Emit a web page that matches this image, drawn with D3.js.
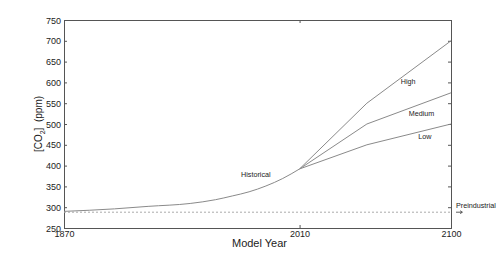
<!DOCTYPE html>
<html><head><meta charset="utf-8">
<script src="https://cdn.jsdelivr.net/npm/d3@7"></script>
<style>body{margin:0;background:#fff}svg{display:block}text{font-family:"Liberation Sans",Arial,sans-serif;fill:#222}</style>
</head><body><svg id="c" width="499" height="257"></svg>
<script>
const histYears = [1870, 1900, 1920, 1945, 1960, 1970, 1980, 1990, 2000, 2010];
const histValues = [290, 296, 302, 309, 318, 327, 337, 351, 369, 392];
const scenYears = [2010, 2050, 2100];
const highValues = [392, 550, 700];
const mediumValues = [392, 500, 575];
const lowValues = [392, 450, 500];
const preindustrial = 288;
const xTicks = [1870, 2010, 2100];
const yTicks = [250, 300, 350, 400, 450, 500, 550, 600, 650, 700, 750];
const labels = [
  {text: "Historical", year: 1984, value: 372},
  {text: "High", year: 2074.5, value: 596},
  {text: "Medium", year: 2082.5, value: 520},
  {text: "Low", year: 2084.5, value: 465}
];

const L = 64, R = 451, T = 20, B = 228;
const svg = d3.select("#c");
const x = d3.scaleLinear().domain([1870, 2100]).range([L, R]);
const y = d3.scaleLinear().domain([250, 750]).range([B, T]);
const axisColor = "#555";
const lineColor = "#8a8a8a";

// axes
const gl = svg.append("g").attr("transform", `translate(${L},0)`)
  .call(d3.axisLeft(y).tickValues(yTicks).tickSize(-3).tickPadding(3));
const gr = svg.append("g").attr("transform", `translate(${R},0)`)
  .call(d3.axisRight(y).tickValues(yTicks).tickSize(-3).tickFormat(""));
const gb = svg.append("g").attr("transform", `translate(0,${B})`)
  .call(d3.axisBottom(x).tickValues(xTicks).tickSize(-3).tickPadding(4).tickFormat(d3.format("d")));
const gt = svg.append("g").attr("transform", `translate(0,${T})`)
  .call(d3.axisTop(x).tickValues(xTicks).tickSize(-3).tickFormat(""));
[gl, gr, gb, gt].forEach(g => {
  g.select(".domain").attr("stroke", axisColor);
  g.selectAll(".tick line").attr("stroke", axisColor);
  g.selectAll("text").style("font-size", "9px").attr("fill", "#222");
});
gl.selectAll(".tick text").attr("dy", "0.34em");
gb.selectAll(".tick text").attr("dy", "0.5em");

// preindustrial dashed
svg.append("line").attr("x1", x(1870)).attr("x2", x(2100))
  .attr("y1", y(preindustrial)).attr("y2", y(preindustrial))
  .attr("stroke", "#aaa").attr("stroke-dasharray", "2,2").attr("stroke-width", 1);

const line = d3.line().x(d => x(d[0])).y(d => y(d[1]));
svg.append("path").datum(histYears.map((d, i) => [d, histValues[i]]))
  .attr("d", line.curve(d3.curveMonotoneX)).attr("fill", "none").attr("stroke", lineColor).attr("stroke-width", 1);
const straight = d3.line().x(d => x(d[0])).y(d => y(d[1]));
[highValues, mediumValues, lowValues].forEach(vals => {
  svg.append("path").datum(scenYears.map((d, i) => [d, vals[i]]))
    .attr("d", straight).attr("fill", "none").attr("stroke", lineColor).attr("stroke-width", 1);
});

labels.forEach(l => {
  svg.append("text").attr("x", x(l.year)).attr("y", y(l.value))
    .attr("text-anchor", "middle").style("font-size", "7.2px").text(l.text);
});
const py = y(preindustrial);
svg.append("text").attr("x", R + 5).attr("y", py - 4.5)
  .style("font-size", "7.2px").text("Preindustrial");
// small arrow below the label
svg.append("line").attr("x1", R + 5).attr("x2", R + 11).attr("y1", py).attr("y2", py)
  .attr("stroke", "#333").attr("stroke-width", 0.8);
svg.append("path").attr("d", `M${R + 9},${py - 1.5}L${R + 11.5},${py}L${R + 9},${py + 1.5}`)
  .attr("fill", "none").attr("stroke", "#333").attr("stroke-width", 0.7);

svg.append("text").attr("x", (L + R) / 2 + 2).attr("y", 246.5)
  .attr("text-anchor", "middle").style("font-size", "11px").text("Model Year");
const yl = svg.append("text").attr("transform", `translate(41.5,${(T + B) / 2}) rotate(-90)`)
  .attr("text-anchor", "middle").style("font-size", "10px").attr("xml:space", "preserve");
yl.append("tspan").text("[CO");
yl.append("tspan").attr("dy", "3").style("font-size", "7px").text("2");
yl.append("tspan").attr("dy", "-3").text("]\u00a0\u00a0(ppm)");
</script></body></html>
